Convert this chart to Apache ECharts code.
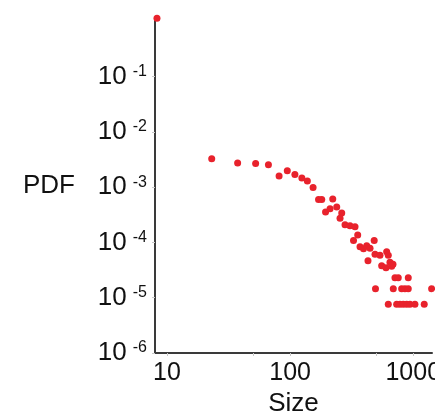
<!DOCTYPE html>
<html>
<head>
<meta charset="utf-8">
<script src="https://cdn.jsdelivr.net/npm/echarts@6/dist/echarts.min.js"></script>
<style>
html,body{margin:0;padding:0;background:#fff;}
#chart{width:435px;height:419px;}
</style>
</head>
<body>
<div id="chart"></div>
<script>
// Cluster size (x) and probability density (y)
var sizes = [8.3, 23.1, 37.5, 52.5, 66.7, 81.4, 94.9, 109.4, 124.6, 138.1,
  153.7, 170.2, 180.7, 222, 194.1, 211.1, 239.2, 262.6, 254.4, 279.3,
  306.6, 336.7, 354.1, 327.3, 369.6, 394.6, 419, 445.6, 481.9, 429.1,
  489.2, 537, 608.5, 627, 554.1, 600.6, 647.1, 684.6, 668.2, 710.6,
  755.6, 911, 493.7, 688.4, 805.2, 856.5, 911, 1410, 627, 733.5,
  780, 829.6, 884.1, 940.2, 1032, 1228];
var pdf = [1.14, 3.27e-3, 2.73e-3, 2.69e-3, 2.55e-3, 1.59e-3, 1.99e-3, 1.70e-3, 1.46e-3, 1.29e-3,
  9.84e-4, 5.97e-4, 5.97e-4, 6.14e-4, 3.57e-4, 4.08e-4, 4.37e-4, 3.40e-4, 2.73e-4, 2.10e-4,
  2.01e-4, 1.93e-4, 1.37e-4, 1.09e-4, 8.40e-5, 7.72e-5, 8.68e-5, 7.82e-5, 1.09e-4, 4.65e-5,
  6.09e-5, 5.85e-5, 6.76e-5, 5.85e-5, 3.78e-5, 3.47e-5, 4.37e-5, 4.02e-5, 3.70e-5, 2.29e-5,
  2.29e-5, 2.29e-5, 1.46e-5, 1.46e-5, 1.46e-5, 1.46e-5, 1.46e-5, 1.46e-5, 7.6e-6, 7.6e-6,
  7.6e-6, 7.6e-6, 7.6e-6, 7.6e-6, 7.6e-6, 7.6e-6];
var xLabelValues = [10, 100, 1000];
var xTickValues = [10, 50, 100, 500, 1000];
var yTickValues = [1e-6, 1e-5, 1e-4, 1e-3, 1e-2, 1e-1];
var xName = 'Size';
var yName = 'PDF';

var FONT = 'Liberation Sans';
var points = sizes.map(function (s, i) { return [s, pdf[i]]; });

var chart = echarts.init(document.getElementById('chart'), null, {renderer: 'canvas'});
chart.setOption({
  animation: false,
  backgroundColor: '#ffffff',
  grid: {left: 155, right: 3, top: 18, bottom: 66, containLabel: false, outerBoundsMode: 'none'},
  xAxis: {
    type: 'log', logBase: 10, min: 8, max: 1420,
    name: xName, nameLocation: 'middle', nameGap: 35,
    nameTextStyle: {fontFamily: FONT, fontSize: 26, color: '#111'},
    axisLine: {show: true, lineStyle: {color: '#3a3a3a', width: 2}},
    axisTick: {show: true, inside: false, length: 3, customValues: xTickValues, lineStyle: {color: '#c8c8c8', width: 1}},
    axisLabel: {show: true, margin: 8, customValues: xLabelValues, fontFamily: FONT, fontSize: 25, color: '#111',
      hideOverlap: false,
      formatter: function (v) { return String(Math.round(v)); }},
    splitLine: {show: false}, minorTick: {show: false}
  },
  yAxis: {
    type: 'log', logBase: 10, min: 1e-6, max: 1.15,
    name: yName, nameLocation: 'middle', nameGap: 80, nameRotate: 0,
    nameTextStyle: {fontFamily: FONT, fontSize: 26, color: '#111'},
    axisLine: {show: true, lineStyle: {color: '#3a3a3a', width: 2}},
    axisTick: {show: true, inside: false, length: 3, customValues: yTickValues, lineStyle: {color: '#c8c8c8', width: 1}},
    axisLabel: {show: true, margin: 8, customValues: yTickValues,
      formatter: function (v) {
        var n = Math.round(Math.log10(v));
        return '{b|10}{s|' + n + '}';
      },
      rich: {
        b: {fontFamily: FONT, fontSize: 26, lineHeight: 26, color: '#111', padding: [12, 0, 0, 0], verticalAlign: 'bottom'},
        s: {fontFamily: FONT, fontSize: 16, lineHeight: 16, color: '#111', padding: [0, 0, 0, 6], verticalAlign: 'top'}
      }
    },
    splitLine: {show: false}, minorTick: {show: false}
  },
  series: [{
    type: 'scatter',
    data: points,
    symbol: 'circle',
    symbolSize: 7,
    clip: false,
    itemStyle: {color: '#e8222c', opacity: 1}
  }]
});
</script>
</body>
</html>
